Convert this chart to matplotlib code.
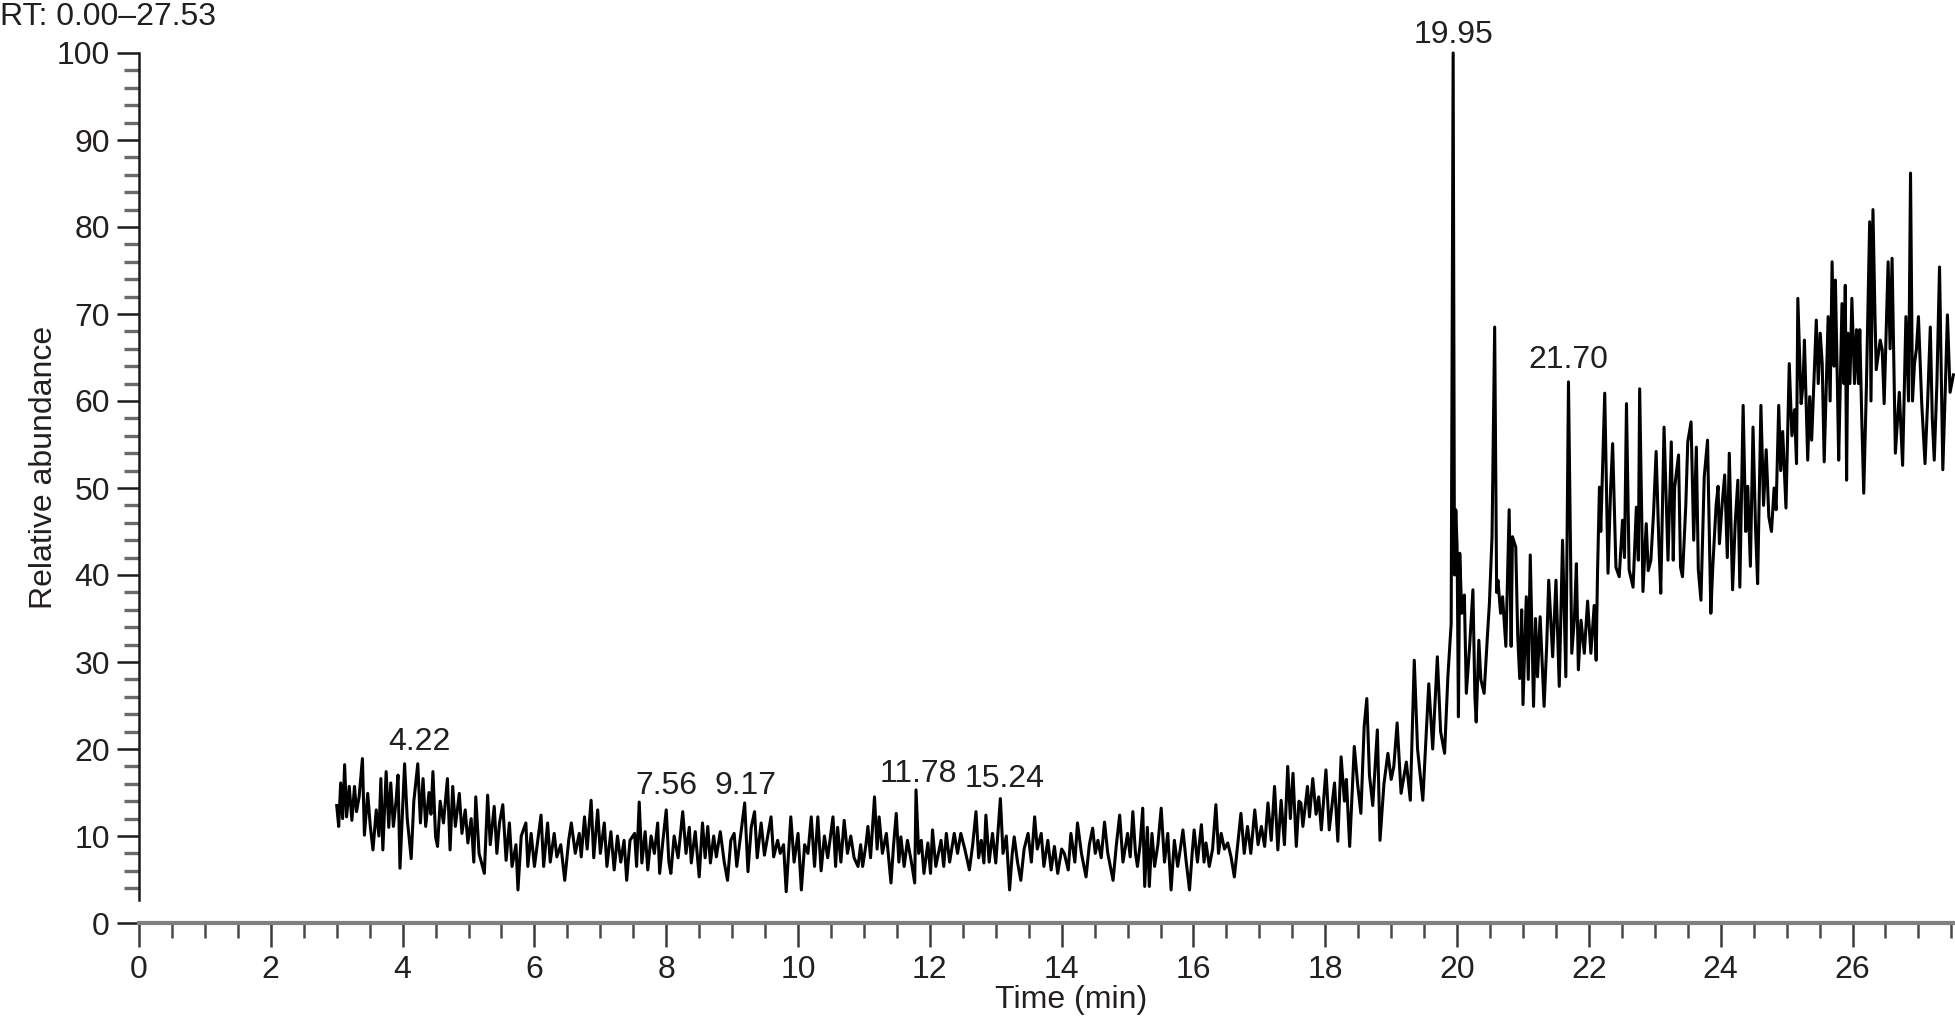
import matplotlib.pyplot as plt
from matplotlib.ticker import MultipleLocator, FixedLocator

plt.rcParams['font.family'] = ['Liberation Sans', 'DejaVu Sans']

# (retention time in min, relative abundance)
trace_early = [
    (3.00, 13.5), (3.03, 11.1), (3.06, 16.1), (3.09, 12.0), (3.12, 18.2), (3.15, 12.2),
    (3.19, 15.7), (3.23, 11.8), (3.27, 15.7), (3.30, 12.8), (3.34, 14.5), (3.39, 18.9),
    (3.42, 10.1), (3.47, 14.9), (3.51, 11.1), (3.55, 8.4), (3.60, 13.0), (3.64, 10.0),
    (3.67, 16.6), (3.70, 8.4), (3.75, 17.4), (3.79, 11.0), (3.82, 16.1), (3.86, 11.1),
    (3.90, 14.0), (3.93, 17.0), (3.96, 6.3), (4.00, 13.0), (4.03, 18.3), (4.07, 12.0),
    (4.13, 7.4), (4.17, 14.0), (4.23, 18.3), (4.27, 11.5), (4.31, 16.6), (4.35, 11.1),
    (4.40, 15.0), (4.43, 12.5), (4.46, 17.4), (4.50, 9.9), (4.53, 8.8), (4.57, 14.0),
    (4.62, 11.5), (4.68, 16.6), (4.72, 8.4), (4.76, 15.7), (4.80, 11.1), (4.86, 14.9),
    (4.90, 10.3), (4.95, 13.0), (4.99, 9.2), (5.04, 12.0), (5.08, 7.0), (5.11, 14.5),
    (5.16, 8.0), (5.24, 5.7), (5.29, 14.7), (5.33, 9.0), (5.39, 13.4), (5.43, 8.0),
    (5.47, 11.5), (5.52, 13.6), (5.57, 7.2), (5.62, 11.5), (5.66, 6.5), (5.72, 9.0),
    (5.75, 3.8), (5.80, 10.0), (5.87, 11.5), (5.90, 6.5), (5.95, 10.3), (6.00, 6.5),
    (6.05, 9.5), (6.10, 12.4), (6.14, 6.5), (6.20, 11.5), (6.24, 7.0), (6.30, 10.3),
    (6.34, 7.6), (6.40, 9.0), (6.46, 4.9), (6.52, 9.5), (6.56, 11.5), (6.62, 8.0),
    (6.68, 10.3), (6.71, 7.6), (6.76, 12.2), (6.80, 8.5), (6.86, 14.1), (6.90, 7.5),
    (6.96, 13.0), (7.00, 8.0), (7.06, 11.5), (7.10, 6.5), (7.16, 10.5), (7.21, 6.1),
    (7.26, 10.0), (7.31, 7.0), (7.36, 9.5), (7.40, 4.9), (7.45, 9.5), (7.52, 10.3),
    (7.55, 6.5), (7.59, 13.9), (7.63, 6.9), (7.68, 10.5), (7.72, 6.1), (7.77, 10.0),
    (7.82, 8.0), (7.87, 11.5), (7.90, 5.7), (7.95, 9.5), (8.00, 13.0), (8.04, 7.0),
    (8.07, 5.7), (8.12, 10.0), (8.18, 7.5), (8.25, 12.8), (8.30, 8.0), (8.35, 11.0),
    (8.38, 6.9), (8.44, 10.5), (8.50, 5.3), (8.55, 11.5), (8.59, 7.5), (8.63, 11.1),
    (8.67, 6.9), (8.72, 10.0), (8.76, 7.6), (8.82, 10.5), (8.88, 7.0), (8.93, 4.9),
    (8.98, 9.5), (9.03, 10.3), (9.07, 6.5), (9.12, 9.5), (9.19, 13.8), (9.24, 5.9),
    (9.29, 11.0), (9.34, 12.8), (9.38, 7.5), (9.44, 11.5), (9.49, 7.8), (9.54, 10.0),
    (9.59, 12.2), (9.63, 7.6), (9.69, 9.5), (9.73, 8.0), (9.78, 9.0), (9.82, 3.6),
    (9.86, 8.5), (9.89, 12.2), (9.94, 7.0), (10.00, 10.3), (10.05, 3.8), (10.10, 9.0),
    (10.15, 8.0), (10.20, 12.2), (10.25, 6.5), (10.30, 12.2),
]

trace_middle = [
    (10.35, 6.0), (10.40, 10.0), (10.45, 7.5), (10.53, 12.2), (10.57, 6.5), (10.60, 11.0),
    (10.65, 7.0), (10.70, 11.8), (10.75, 8.0), (10.80, 10.0), (10.85, 7.5), (10.91, 6.5),
    (10.95, 9.0), (10.98, 6.5), (11.03, 9.0), (11.06, 11.1), (11.10, 7.5), (11.16, 14.5),
    (11.20, 8.5), (11.23, 12.2), (11.28, 8.0), (11.34, 10.3), (11.38, 7.0), (11.41, 4.6),
    (11.45, 9.0), (11.49, 12.6), (11.53, 7.0), (11.56, 9.9), (11.61, 6.5), (11.66, 9.5),
    (11.72, 7.0), (11.77, 4.6), (11.79, 15.3), (11.83, 8.0), (11.87, 9.5), (11.91, 5.7),
    (11.97, 9.2), (12.01, 5.7), (12.04, 10.7), (12.09, 6.5), (12.17, 9.5), (12.21, 6.5),
    (12.25, 10.3), (12.30, 7.0), (12.37, 10.3), (12.42, 8.0), (12.47, 10.3), (12.53, 8.5),
    (12.60, 6.1), (12.65, 9.0), (12.70, 12.8), (12.74, 7.5), (12.78, 9.5), (12.82, 6.9),
    (12.85, 12.4), (12.90, 7.0), (12.95, 10.3), (13.00, 6.9), (13.07, 14.3), (13.11, 8.0),
    (13.16, 10.0), (13.21, 3.8), (13.25, 8.0), (13.28, 9.9), (13.33, 7.0), (13.38, 4.9),
    (13.43, 8.5), (13.49, 10.3), (13.54, 7.0), (13.59, 12.2), (13.63, 8.5), (13.69, 10.3),
    (13.73, 6.5), (13.79, 9.5), (13.84, 6.1), (13.89, 8.8), (13.94, 5.7), (14.00, 8.5),
    (14.04, 8.0), (14.10, 6.1), (14.14, 10.3), (14.20, 7.0), (14.24, 11.5), (14.30, 8.0),
    (14.37, 5.3), (14.42, 9.0), (14.47, 10.9), (14.51, 8.0), (14.55, 9.5), (14.60, 7.5),
    (14.65, 11.6), (14.70, 8.0), (14.78, 4.9), (14.83, 9.0), (14.88, 12.4), (14.93, 7.0),
    (15.00, 10.3), (15.04, 7.6), (15.08, 12.8), (15.12, 8.0), (15.15, 6.5), (15.19, 9.0),
    (15.23, 13.2), (15.26, 4.2), (15.30, 11.0), (15.33, 4.2), (15.37, 10.3), (15.41, 6.5),
    (15.46, 9.0), (15.51, 13.2), (15.56, 7.0), (15.61, 10.3), (15.66, 3.8), (15.71, 9.5),
    (15.76, 6.5), (15.80, 8.5), (15.84, 10.7), (15.89, 7.0), (15.94, 3.8), (15.98, 8.0),
    (16.01, 10.7), (16.06, 7.0), (16.12, 11.3), (16.16, 7.0), (16.19, 9.2), (16.24, 6.5),
    (16.29, 8.5), (16.34, 13.6), (16.38, 8.0), (16.42, 10.3), (16.47, 8.5), (16.52, 9.2),
    (16.57, 7.6), (16.62, 5.3), (16.67, 9.0), (16.72, 12.6), (16.77, 8.0), (16.82, 11.1),
    (16.87, 8.0), (16.93, 13.0), (16.98, 9.0), (17.03, 11.1), (17.08, 8.8), (17.13, 13.8),
    (17.18, 9.5), (17.23, 15.7), (17.28, 8.4), (17.33, 14.1), (17.38, 9.0), (17.43, 18.0),
    (17.47, 12.0), (17.51, 17.2), (17.56, 8.8), (17.60, 14.0),
]

trace_rise = [
    (17.63, 13.8), (17.66, 11.1), (17.73, 15.7), (17.76, 12.2), (17.81, 16.6), (17.86, 12.5),
    (17.90, 14.5), (17.94, 10.7), (18.01, 17.6), (18.06, 10.7), (18.14, 16.1), (18.19, 9.4),
    (18.24, 19.1), (18.29, 14.0), (18.32, 16.5), (18.37, 8.8), (18.44, 20.3), (18.49, 16.0),
    (18.54, 12.6), (18.59, 22.6), (18.63, 25.8), (18.67, 17.0), (18.72, 13.5), (18.79, 22.2),
    (18.83, 9.5), (18.89, 16.0), (18.95, 19.5), (19.00, 16.5), (19.04, 18.0), (19.09, 23.0),
    (19.15, 14.9), (19.23, 18.5), (19.29, 14.1), (19.35, 30.2), (19.40, 20.0), (19.48, 14.1),
    (19.57, 27.5), (19.63, 20.0), (19.70, 30.6), (19.75, 22.0), (19.81, 19.5), (19.86, 28.3),
    (19.91, 34.4), (19.94, 100.0), (19.96, 40.0), (19.98, 47.5), (20.00, 43.2), (20.02, 23.7),
    (20.04, 42.5), (20.07, 35.6), (20.11, 37.7), (20.14, 26.4), (20.19, 31.8), (20.24, 38.3),
    (20.27, 26.0), (20.29, 23.1), (20.33, 32.5), (20.36, 28.0), (20.41, 26.4), (20.46, 33.0),
    (20.49, 36.7), (20.53, 44.4), (20.57, 68.5), (20.60, 38.0), (20.62, 39.4), (20.66, 35.6),
    (20.69, 37.5), (20.74, 31.8), (20.79, 47.5), (20.82, 31.8), (20.84, 44.4), (20.89, 43.2),
    (20.92, 33.0), (20.95, 28.1), (20.98, 36.0), (21.00, 25.1), (21.05, 37.5), (21.08, 28.0),
    (21.11, 42.3), (21.16, 24.9), (21.19, 35.0), (21.22, 28.3), (21.26, 35.2), (21.32, 24.9),
    (21.36, 32.0), (21.39, 39.4), (21.45, 30.6), (21.50, 39.4), (21.55, 27.2), (21.60, 44.0),
    (21.65, 28.3), (21.69, 62.2), (21.74, 31.0), (21.78, 35.0), (21.81, 41.3), (21.84, 29.1),
    (21.88, 34.8), (21.93, 31.0), (21.98, 37.0), (22.03, 31.0), (22.08, 36.5), (22.11, 30.2),
    (22.13, 40.0), (22.16, 50.1),
]

trace_late = [
    (22.18, 45.0), (22.24, 60.9), (22.29, 40.2), (22.33, 50.0), (22.36, 55.1), (22.41, 40.9),
    (22.46, 39.8), (22.51, 46.3), (22.54, 42.0), (22.57, 59.7), (22.61, 40.6), (22.67, 38.6),
    (22.72, 47.8), (22.75, 41.7), (22.77, 61.4), (22.82, 38.1), (22.87, 45.9), (22.90, 40.5),
    (22.94, 41.7), (22.98, 47.0), (23.02, 54.2), (23.06, 44.0), (23.09, 37.9), (23.14, 57.0),
    (23.20, 41.7), (23.25, 55.3), (23.28, 41.7), (23.30, 50.0), (23.36, 53.8), (23.39, 40.9),
    (23.42, 39.8), (23.47, 48.0), (23.50, 55.3), (23.55, 57.6), (23.59, 44.0), (23.63, 54.7),
    (23.66, 40.6), (23.70, 37.1), (23.75, 51.3), (23.80, 55.5), (23.85, 35.6), (23.88, 41.0),
    (23.93, 48.0), (23.96, 50.2), (23.98, 43.6), (24.02, 48.0), (24.06, 51.5), (24.10, 42.0),
    (24.13, 54.0), (24.18, 38.3), (24.22, 46.0), (24.26, 50.9), (24.29, 38.6), (24.34, 59.5),
    (24.38, 45.0), (24.41, 50.2), (24.45, 41.0), (24.49, 57.0), (24.53, 45.0), (24.56, 39.0),
    (24.61, 59.5), (24.65, 48.0), (24.69, 54.4), (24.73, 46.7), (24.77, 45.0), (24.81, 50.0),
    (24.84, 47.5), (24.88, 59.5), (24.91, 52.0), (24.94, 56.5), (24.99, 47.7), (25.04, 64.3),
    (25.08, 56.0), (25.12, 59.0), (25.15, 52.8), (25.17, 71.8), (25.22, 59.7), (25.25, 62.0),
    (25.27, 67.0), (25.32, 53.2), (25.35, 60.5), (25.38, 55.5), (25.45, 69.3), (25.48, 62.0),
    (25.51, 67.8), (25.54, 64.3), (25.57, 53.0), (25.63, 69.7), (25.66, 60.0), (25.69, 76.0),
    (25.72, 64.0), (25.74, 73.9), (25.77, 62.0), (25.79, 53.2), (25.84, 71.2), (25.87, 62.0),
    (25.89, 73.3), (25.91, 50.9), (25.93, 67.8), (25.96, 62.0), (25.99, 71.8), (26.03, 62.0),
    (26.06, 68.2), (26.09, 62.0), (26.11, 68.2), (26.14, 58.0), (26.17, 49.4), (26.21, 61.5),
    (26.26, 80.6), (26.28, 60.0), (26.31, 82.0), (26.34, 70.0), (26.36, 63.6), (26.42, 67.0),
    (26.45, 65.9), (26.48, 59.7), (26.54, 76.0), (26.57, 66.0), (26.60, 76.4), (26.65, 54.0),
    (26.71, 61.0), (26.76, 52.6), (26.81, 69.7), (26.85, 60.0), (26.88, 86.2), (26.91, 60.0),
    (26.94, 64.3), (26.97, 66.0), (27.00, 69.7), (27.05, 59.7), (27.10, 52.8), (27.14, 60.0),
    (27.18, 68.5), (27.21, 58.0), (27.24, 53.2), (27.28, 62.0), (27.32, 75.4), (27.37, 52.1),
    (27.41, 62.0), (27.44, 69.9), (27.48, 61.0), (27.53, 63.0),
]

# peak annotations: text and where the text sits (time, abundance of baseline)
peak_texts = ["4.22", "7.56", "9.17", "11.78", "15.24", "19.95", "21.70"]
peak_text_pos = [(4.25, 19.9), (8.0, 14.8), (9.21, 14.8), (11.82, 16.2),
                 (13.14, 15.6), (19.94, 101.1), (21.68, 63.8)]

points = trace_early + trace_middle + trace_rise + trace_late
rt = [p[0] for p in points]
abundance = [p[1] for p in points]

txt = '#231f20'
fs = 23
fig = plt.figure(figsize=(19.56, 10.22), dpi=100)
ax = fig.add_axes([139 / 1956, 99 / 1022, 1817 / 1956, 870 / 1022])

ax.plot(rt, abundance, color='black', lw=2.2, clip_on=False)

ax.set_xlim(0, 27.57)
ax.set_ylim(0, 100)

for s in ['top', 'right']:
    ax.spines[s].set_visible(False)
ax.spines['left'].set_bounds(2.7, 100)
ax.spines['left'].set_color('#1a1a1a')
ax.spines['left'].set_linewidth(1.8)
ax.spines['bottom'].set_color('#808080')
ax.spines['bottom'].set_linewidth(3)

ax.xaxis.set_major_locator(MultipleLocator(2))
ax.xaxis.set_minor_locator(MultipleLocator(0.5))
ax.yaxis.set_major_locator(MultipleLocator(10))
ax.yaxis.set_minor_locator(FixedLocator([v for v in range(4, 100, 2) if v % 10]))

ax.tick_params(axis='x', which='major', length=17, width=1.8, color='#3a3a3a',
               pad=6, labelsize=fs, labelcolor=txt)
ax.tick_params(axis='x', which='minor', length=11, width=1.8, color='#4a4a4a')
ax.tick_params(axis='y', which='major', length=16, width=1.8, color='#1a1a1a',
               pad=5, labelsize=fs, labelcolor=txt)
ax.tick_params(axis='y', which='minor', length=11, width=2.4, color='#6a6a6a')

for s, (x, y) in zip(peak_texts, peak_text_pos):
    ax.text(x, y, s, ha='center', va='baseline', fontsize=fs, color=txt, clip_on=False)

fig.text(0.0, 1 - 25 / 1022, 'RT: 0.00\u201327.53', ha='left', va='baseline',
         fontsize=fs, color=txt)
fig.text(1071 / 1956, 1 - 1008 / 1022, 'Time (min)', ha='center', va='baseline',
         fontsize=fs, color=txt)
fig.text(44 / 1956, 1 - 467 / 1022, 'Relative abundance', rotation=90,
         ha='center', va='center', fontsize=fs, color=txt)

fig.savefig('out.png', dpi=100)
